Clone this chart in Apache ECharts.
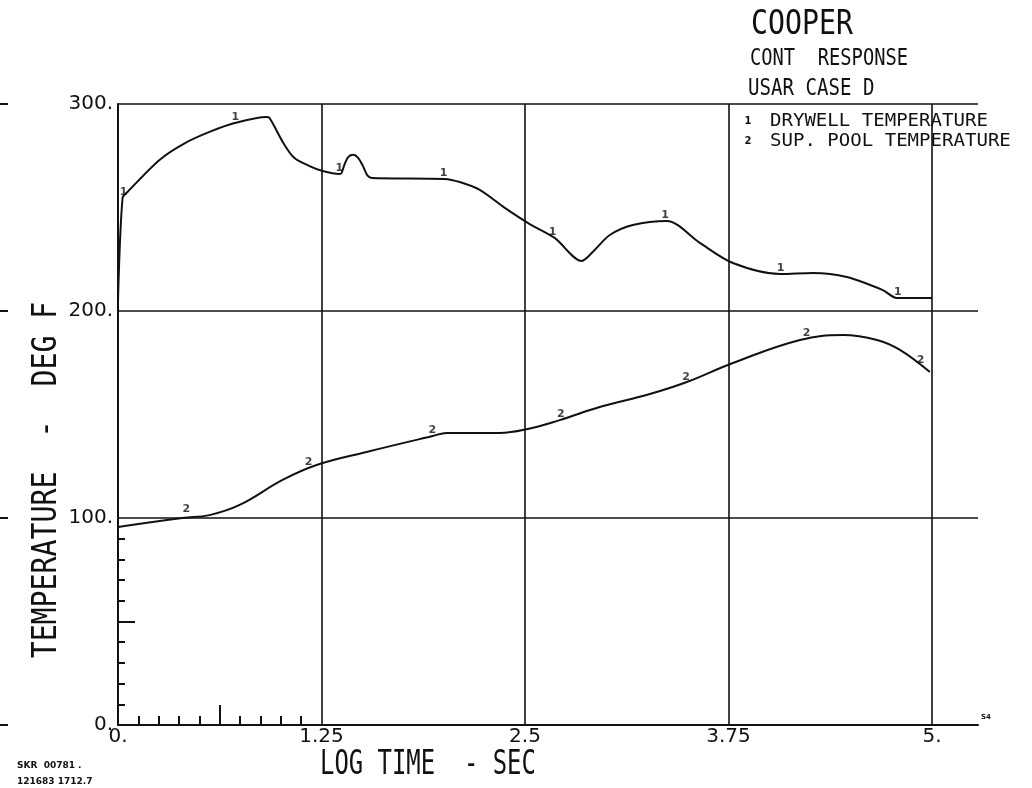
<!DOCTYPE html>
<html>
<head>
<meta charset="utf-8">
<script src="https://cdn.jsdelivr.net/npm/echarts@6/dist/echarts.min.js"></script>
<style>
  html, body { margin: 0; padding: 0; background: #ffffff; }
  #chart { width: 1032px; height: 788px; }
</style>
</head>
<body>
<div id="chart"></div>
<script>
// Axis ticks and labels
const xTicks = [0, 1.25, 2.5, 3.75, 5];
const xTickLabels = ['0.', '1.25', '2.5', '3.75', '5.'];
const yTicks = [0, 100, 200, 300];
const yTickLabels = ['0.', '100.', '200.', '300.'];
const xMinorTicks = [0.125, 0.25, 0.375, 0.5, 0.75, 0.875, 1.0, 1.125];
const xMidTicks = [0.625];
const yMinorTicks = [10, 20, 30, 40, 60, 70, 80, 90];
const yMidTicks = [50];

// Curve 1: drywell temperature (deg F) vs log time (sec)
const drywellTime = [0, 0.028, 0.058, 0.255, 0.409, 0.562, 0.716, 0.913, 0.931, 1.023, 1.084, 1.177, 1.257, 1.361,
  1.372, 1.39, 1.415, 1.445, 1.475, 1.505, 1.532, 1.558, 2.007, 2.099, 2.222, 2.376, 2.529, 2.682, 2.848, 2.928,
  3.021, 3.162, 3.371, 3.574, 3.777, 4.066, 4.269, 4.477, 4.698, 4.784, 5.0];
const drywellTemp = [205, 254.6, 257.5, 273, 281, 286.5, 290.8, 293.7, 293.2, 280.2, 273.9, 270, 267.6, 266.2,
  266.5, 270.5, 274.5, 275.5, 274, 270, 265.5, 264.3, 263.8, 262.3, 258.5, 249.8, 242, 235.3, 224.2, 229.5,
  236.7, 241.5, 243.5, 232.9, 223.2, 217.9, 218.4, 216.4, 210.1, 206.3, 206.3];

// Curve 2: suppression pool temperature (deg F) vs log time (sec)
const poolTime = [0, 0.396, 0.562, 0.747, 1.011, 1.22, 1.527, 1.933, 2.019, 2.345, 2.517, 2.713, 2.959, 3.267,
  3.494, 3.777, 4.189, 4.453, 4.662, 4.803, 4.987];
const poolTemp = [95.7, 100, 101.4, 106.3, 118.4, 125.6, 131.9, 139.6, 141.1, 141.1, 143, 147.3, 153.6, 159.9,
  165.7, 174.9, 186, 188.4, 186, 181.2, 170.5];

// Curve identification symbols placed along each curve
const drywellMarkTime = [0.035, 0.72, 1.36, 2.0, 2.67, 3.36, 4.07, 4.79];
const drywellMarkTemp = [255, 291, 266.2, 263.8, 235.5, 243.5, 217.9, 206.3];
const poolMarkTime = [0.42, 1.17, 1.93, 2.72, 3.49, 4.23, 4.93];
const poolMarkTemp = [101.5, 124.5, 139.6, 147.5, 165.6, 186.6, 173.5];

// Text block
const titleLines = ['COOPER', 'CONT  RESPONSE', 'USAR CASE D'];
const legendNames = ['DRYWELL TEMPERATURE', 'SUP. POOL TEMPERATURE'];
const legendSymbols = ['1', '2'];
const xTitle = 'LOG TIME  - SEC';
const yTitle = 'TEMPERATURE  -  DEG F';
const footLines = ['SKR  00781 .', '121683 1712.7'];
const cornerMark = 'S4';

const zip = (a, b) => a.map((v, i) => [v, b[i]]);
const INK = '#111111';
const MONO = "'DejaVu Sans Mono', monospace";

// Plotter-style text: monospace, sized by cap height and stretched to a pitch
function plotText(str, x, y, cap, pitch, opts) {
  const size = cap / 0.729;
  const sx = pitch / (0.602 * size);
  return Object.assign({
    type: 'text', x: x, y: y, scaleX: sx, silent: true,
    style: {
      text: str, font: 'normal ' + size.toFixed(1) + 'px ' + MONO, fill: INK,
      textAlign: 'left', textVerticalAlign: 'middle'
    }
  }, opts || {});
}

const chart = echarts.init(document.getElementById('chart'), null, { renderer: 'canvas' });

const G0 = { left: 118, right: 100, top: 104, bottom: 63 };
const G1 = { left: 118, right: 54, top: 104, bottom: 63 };

const hidden = { show: false };
// Extra axes that only carry inward-pointing tick marks
function tickAxis(dim, values, len) {
  return {
    type: 'value', gridIndex: 0, min: 0, max: dim === 'x' ? 5 : 300,
    position: dim === 'x' ? 'bottom' : 'left', offset: 0,
    axisLine: { show: false, onZero: false }, splitLine: hidden,
    axisLabel: { show: false },
    axisTick: { show: true, inside: true, length: len, customValues: values, lineStyle: { color: INK, width: 2 } }
  };
}

const option = {
  backgroundColor: '#ffffff',
  animation: false,
  grid: [G0, G1],
  xAxis: [
    {
      type: 'value', gridIndex: 0, min: 0, max: 5, interval: 1.25, position: 'bottom',
      axisLine: { show: false, onZero: false }, axisTick: hidden,
      axisLabel: {
        color: INK, fontSize: 20, fontFamily: 'DejaVu Sans', margin: 2,
        formatter: v => xTickLabels[xTicks.findIndex(t => Math.abs(t - v) < 1e-6)] || ''
      },
      splitLine: { show: true, lineStyle: { color: INK, width: 1.6 } }
    },
    {
      type: 'value', gridIndex: 1, min: 0, max: 1, position: 'bottom',
      axisLine: { show: true, onZero: false, lineStyle: { color: INK, width: 2 } },
      axisTick: hidden, axisLabel: hidden, splitLine: hidden
    },
    tickAxis('x', xMinorTicks, 9),
    tickAxis('x', xMidTicks, 20)
  ],
  yAxis: [
    {
      type: 'value', gridIndex: 0, min: 0, max: 300, interval: 100, position: 'left',
      axisLine: { show: true, onZero: false, lineStyle: { color: INK, width: 2 } },
      axisTick: hidden,
      axisLabel: {
        color: INK, fontSize: 20, fontFamily: 'DejaVu Sans', margin: 5,
        formatter: v => yTickLabels[yTicks.indexOf(v)] || ''
      },
      splitLine: hidden
    },
    {
      type: 'value', gridIndex: 1, min: 0, max: 300, interval: 100, position: 'left',
      axisLine: { show: false, onZero: false }, axisTick: hidden, axisLabel: hidden,
      splitLine: { show: true, lineStyle: { color: INK, width: 1.6 } }
    },
    tickAxis('y', yMinorTicks, 7),
    tickAxis('y', yMidTicks, 17),
    {
      type: 'value', gridIndex: 0, min: 0, max: 300, interval: 100, position: 'left', offset: 110,
      axisLine: { show: false, onZero: false }, axisLabel: hidden, splitLine: hidden,
      axisTick: { show: true, length: 8, lineStyle: { color: INK, width: 2 } }
    }
  ],
  series: [
    {
      name: legendNames[0], type: 'line', xAxisIndex: 0, yAxisIndex: 0,
      data: zip(drywellTime, drywellTemp), showSymbol: false, symbol: 'none',
      smooth: 0.3,
      lineStyle: { color: INK, width: 2 }, z: 5
    },
    {
      name: legendNames[1], type: 'line', xAxisIndex: 0, yAxisIndex: 0,
      data: zip(poolTime, poolTemp), showSymbol: false, symbol: 'none',
      smooth: 0.4,
      lineStyle: { color: INK, width: 2 }, z: 5
    },
    {
      type: 'scatter', xAxisIndex: 0, yAxisIndex: 0, symbolSize: 0, silent: true,
      data: zip(drywellMarkTime, drywellMarkTemp),
      label: { show: true, position: 'top', distance: 0, formatter: legendSymbols[0],
        color: INK, fontSize: 11, fontWeight: 'bold', fontFamily: 'DejaVu Sans' }
    },
    {
      type: 'scatter', xAxisIndex: 0, yAxisIndex: 0, symbolSize: 0, silent: true,
      data: zip(poolMarkTime, poolMarkTemp),
      label: { show: true, position: 'top', distance: 0, formatter: legendSymbols[1],
        color: INK, fontSize: 11, fontWeight: 'bold', fontFamily: 'DejaVu Sans' }
    }
  ],
  graphic: [
    plotText(titleLines[0], 751, 25, 24, 17),
    plotText(titleLines[1], 750, 58.5, 17, 11.3),
    plotText(titleLines[2], 748, 88.5, 17, 11.5),
    { type: 'text', x: 748, y: 121, silent: true,
      style: { text: legendSymbols[0], font: 'bold 10px DejaVu Sans', fill: INK, textAlign: 'center', textVerticalAlign: 'middle' } },
    { type: 'text', x: 748, y: 141, silent: true,
      style: { text: legendSymbols[1], font: 'bold 10px DejaVu Sans', fill: INK, textAlign: 'center', textVerticalAlign: 'middle' } },
    plotText(legendNames[0], 770, 121, 13, 11.5),
    plotText(legendNames[1], 770, 141, 13, 11.5),
    plotText(xTitle, 320, 765, 24, 14.4),
    plotText(yTitle, 47, 480, 24, 17, { rotation: Math.PI / 2,
      style: { text: yTitle, font: 'normal ' + (24 / 0.729).toFixed(1) + 'px ' + MONO, fill: INK,
        textAlign: 'center', textVerticalAlign: 'middle' } }),
    { type: 'text', x: 17, y: 766, silent: true,
      style: { text: footLines[0], font: 'bold 9px DejaVu Sans', fill: INK, textAlign: 'left', textVerticalAlign: 'middle' } },
    { type: 'text', x: 17, y: 782, silent: true,
      style: { text: footLines[1], font: 'bold 9px DejaVu Sans', fill: INK, textAlign: 'left', textVerticalAlign: 'middle' } },
    { type: 'text', x: 986, y: 717, silent: true,
      style: { text: cornerMark, font: 'bold 7px DejaVu Sans', fill: INK, textAlign: 'center', textVerticalAlign: 'middle' } }
  ]
};

chart.setOption(option);
</script>
</body>
</html>
